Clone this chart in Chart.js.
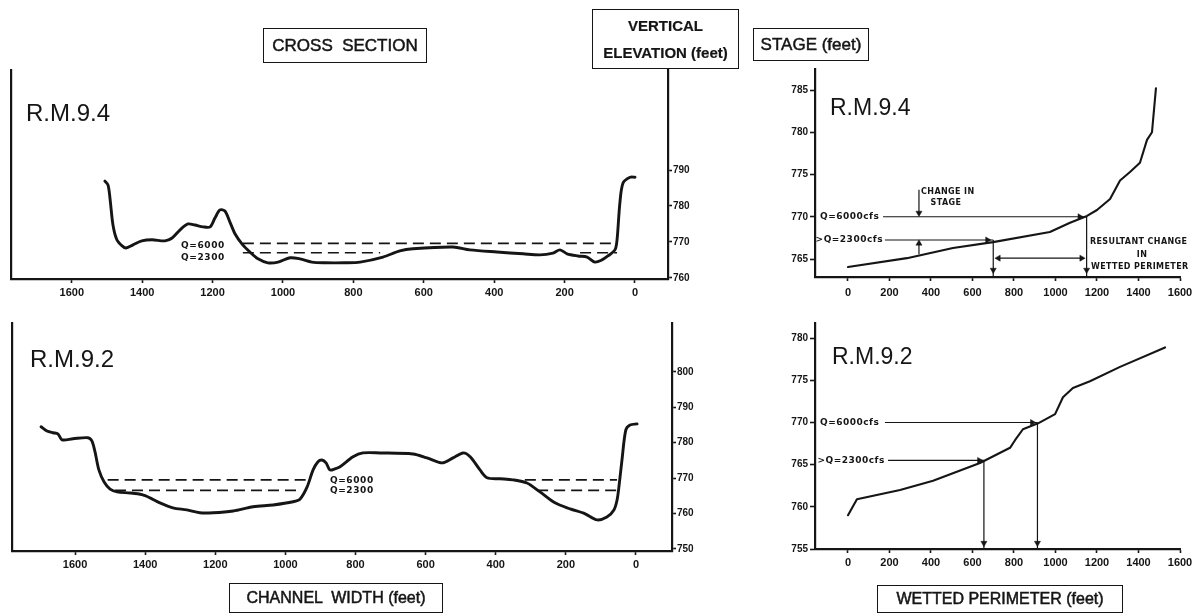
<!DOCTYPE html>
<html>
<head>
<meta charset="utf-8">
<title>Cross sections and stage / wetted perimeter, R.M. 9.4 and R.M. 9.2</title>
<script src="https://cdn.jsdelivr.net/npm/chart.js@4.4.1/dist/chart.umd.min.js"></script>
<style>
  html, body { margin: 0; padding: 0; background: #fff; }
  #page { position: relative; width: 1202px; height: 615px; overflow: hidden; background: #fff; }
  #page canvas { position: absolute; left: 0; top: 0; }
  .box {
    position: absolute; box-sizing: border-box; border: 1.8px solid #151515;
    font-family: "Liberation Sans", Arial, sans-serif; color: #151515;
    display: flex; flex-direction: column; justify-content: center; align-items: center;
    -webkit-text-stroke: 0.5px #151515; white-space: pre;
  }
  .rm {
    position: absolute; font-family: "Liberation Sans", Arial, sans-serif; color: #151515;
    line-height: 1; white-space: pre;
  }
</style>
</head>
<body>
<div id="page">
  <canvas id="csTop" width="1202" height="615"></canvas>
  <canvas id="csBottom" width="1202" height="615"></canvas>
  <canvas id="stTop" width="1202" height="615"></canvas>
  <canvas id="stBottom" width="1202" height="615"></canvas>

  <div class="box" style="left:263px;top:28px;width:164px;height:35px;font-size:17px;">CROSS  SECTION</div>
  <div class="box" style="left:592px;top:9px;width:147px;height:60px;font-size:15px;font-weight:bold;line-height:27px;-webkit-text-stroke:0.2px #151515;"><span>VERTICAL</span><span>ELEVATION (feet)</span></div>
  <div class="box" style="left:753px;top:28px;width:116px;height:33px;font-size:17px;">STAGE (feet)</div>
  <div class="box" style="left:229px;top:583px;width:214px;height:30px;font-size:16px;">CHANNEL  WIDTH (feet)</div>
  <div class="box" style="left:877px;top:585px;width:246px;height:28px;font-size:16px;">WETTED PERIMETER (feet)</div>

  <div class="rm" style="left:26px;top:101px;font-size:24px;">R.M.9.4</div>
  <div class="rm" style="left:30px;top:347px;font-size:24px;">R.M.9.2</div>
  <div class="rm" style="left:830px;top:96px;font-size:23px;">R.M.9.4</div>
  <div class="rm" style="left:832px;top:345px;font-size:23px;">R.M.9.2</div>
</div>

<script>
// ---------- data ----------

// Tick values
const widthTicks = [1600, 1400, 1200, 1000, 800, 600, 400, 200, 0];
const perimeterTicks = [0, 200, 400, 600, 800, 1000, 1200, 1400, 1600];
const elevationTicksRM94 = [760, 770, 780, 790];
const elevationTicksRM92 = [750, 760, 770, 780, 790, 800];
const stageTicksRM94 = [765, 770, 775, 780, 785];
const stageTicksRM92 = [755, 760, 765, 770, 775, 780];

// R.M. 9.4 cross section: channel width (ft) and bed elevation (ft)
const rm94Width = [1506, 1497, 1491, 1483, 1472, 1457, 1446, 1426, 1401, 1372,
  1335, 1315, 1293, 1270, 1250, 1227, 1207, 1193, 1179, 1165,
  1151, 1136, 1116, 1094, 1071, 1043, 1014, 980, 952, 918,
  881, 824, 781, 716, 668, 631, 517, 469, 392, 318,
  270, 233, 213, 193, 162, 136, 114, 94, 77, 57,
  51, 43, 34, 14, 0];
const rm94Elevation = [786.9, 785.8, 781.7, 774.7, 770.6, 768.9, 768.3, 769.2, 770.3, 770.6,
  770.3, 771.1, 773.3, 775.0, 774.7, 774.2, 774.2, 776.7, 778.9, 778.6,
  775.6, 772.2, 769.4, 767.2, 765.3, 764.2, 764.4, 765.6, 765.3, 764.4,
  764.2, 764.2, 764.4, 765.8, 767.5, 768.1, 768.6, 767.8, 767.2, 766.7,
  766.4, 766.9, 767.8, 766.7, 766.1, 765.8, 764.4, 765.0, 766.1, 767.8,
  770.6, 780.8, 786.4, 788.0, 788.0];

// R.M. 9.2 cross section
const rm92Width = [1697, 1680, 1663, 1649, 1637, 1606, 1563, 1552, 1543, 1532,
  1517, 1500, 1480, 1443, 1409, 1386, 1358, 1321, 1281, 1244,
  1206, 1149, 1092, 1035, 978, 958, 938, 921, 907, 896,
  884, 873, 859, 844, 807, 779, 730, 636, 596, 553,
  522, 493, 473, 445, 425, 388, 351, 311, 274, 231,
  188, 145, 111, 83, 63, 54, 48, 40, 29, 17,
  -3];
const rm92Elevation = [784.5, 783.3, 782.8, 782.5, 780.8, 781.1, 781.4, 780.5, 777.4, 772.3,
  768.9, 766.9, 766.1, 765.8, 765.3, 764.4, 763.0, 761.6, 761.0, 760.2,
  760.2, 760.7, 761.9, 762.4, 763.3, 764.1, 767.5, 772.3, 774.6, 775.1,
  774.3, 772.3, 772.6, 773.2, 776.0, 777.1, 777.1, 776.8, 775.7, 774.3,
  775.7, 777.1, 776.0, 772.3, 770.1, 769.8, 769.5, 768.6, 766.1, 763.0,
  761.3, 759.9, 758.2, 759.0, 761.0, 763.8, 768.1, 775.1, 783.6, 785.0,
  785.3];

// Water surfaces drawn across the sections: level (ft) and wetted reaches (ft of channel width)
const rm94Q6000Level = 769.6;
const rm94Q6000Reaches = [[1114, 51]];
const rm94Q2300Level = 767.0;
const rm94Q2300Reaches = [[1114, 724], [156, 51]];
const rm92Q6000Level = 769.5;
const rm92Q6000Reaches = [[1507, 938], [317, 54]];
const rm92Q2300Level = 766.5;
const rm92Q2300Reaches = [[1486, 953], [282, 54]];

// Stage vs wetted perimeter, R.M. 9.4
const rm94Perimeter = [0, 284, 506, 699, 973, 1070, 1152, 1200, 1263, 1311, 1359, 1407, 1441, 1465, 1484];
const rm94Stage = [764.05, 765.1, 766.3, 767.0, 768.2, 769.3, 770.1, 770.8, 772.1, 774.3, 775.3, 776.4, 779.1, 780.0, 785.2];

// Stage vs wetted perimeter, R.M. 9.2
const rm92Perimeter = [0, 43, 251, 410, 636, 781, 805, 843, 916, 998, 1036, 1084, 1166, 1311, 1528];
const rm92Stage = [759.0, 760.9, 762.0, 763.1, 765.2, 767.0, 767.9, 769.2, 769.9, 771.0, 773.0, 774.1, 774.9, 776.6, 778.9];

// Discharge read-offs: [wetted perimeter (ft), stage (ft)]
const rm94At6000 = [1150, 770.0];
const rm94At2300 = [700, 767.25];
const rm92At6000 = [913, 770.0];
const rm92At2300 = [655, 765.5];

// ---------- drawing ----------

const W = 1202, H = 615;
const INK = '#151515';
const X_TICK_FONT = { family: "'Liberation Sans', Arial, sans-serif", size: 11, weight: 'bold' };
const Y_TICK_FONT = { family: "'Liberation Sans', Arial, sans-serif", size: 10, weight: 'bold' };
const NOTE_FONT_BOLD = "bold 9px 'DejaVu Sans', sans-serif";
const NOTE_FONT_SMALL = "bold 8px 'DejaVu Sans', sans-serif";
const NOTE_FONT_SECTION = "bold 9px 'DejaVu Sans', sans-serif";

const pairs = (xs, ys) => xs.map((x, i) => ({ x, y: ys[i] }));

function reachPoints(reaches, level) {
  const pts = [];
  reaches.forEach((r, i) => {
    if (i > 0) pts.push({ x: (reaches[i - 1][1] + r[0]) / 2, y: null });
    pts.push({ x: r[0], y: level }, { x: r[1], y: level });
  });
  return pts;
}

function profile(data, width) {
  return { data, borderColor: INK, borderWidth: width, tension: 0.3, pointRadius: 0,
           borderCapStyle: 'round', borderJoinStyle: 'round', fill: false };
}
function polyline(data, width) {
  return { data, borderColor: INK, borderWidth: width, tension: 0, pointRadius: 0,
           borderCapStyle: 'round', borderJoinStyle: 'round', fill: false };
}
function waterLine(data) {
  return { data, borderColor: INK, borderWidth: 1.7, borderDash: [11, 6], pointRadius: 0,
           tension: 0, spanGaps: false, fill: false };
}
function arrow(data, radii, rotations) {
  return { data, borderColor: INK, borderWidth: 1.2, tension: 0, fill: false,
           pointStyle: 'triangle', pointRadius: radii, pointRotation: rotations,
           pointBackgroundColor: INK, pointBorderColor: INK, pointBorderWidth: 0.5 };
}

// Writes small notes at data coordinates
const notesPlugin = {
  id: 'notes',
  afterDatasetsDraw(chart, args, opts) {
    const { ctx, scales } = chart;
    ctx.save();
    ctx.fillStyle = INK;
    ctx.textBaseline = 'middle';
    (opts.items || []).forEach(n => {
      ctx.font = n.font;
      ctx.textAlign = n.align || 'left';
      ctx.letterSpacing = (n.spacing || 0) + 'px';
      ctx.fillText(n.text, scales.x.getPixelForValue(n.x), scales.y.getPixelForValue(n.y));
    });
    ctx.restore();
  }
};

function tickList(values) {
  return s => { s.ticks = values.map(v => ({ value: v })); };
}

function axisCommon(extra, font) {
  return Object.assign({
    type: 'linear',
    grid: { display: true, drawOnChartArea: false, drawTicks: true, tickLength: 4,
            tickColor: INK, tickWidth: 1.6, color: INK },
    border: { display: true, color: INK, width: 2.2 },
    ticks: { color: INK, font, autoSkip: false, maxRotation: 0, padding: 4,
             callback: v => String(v) }
  }, extra);
}

function makeChart(id, area, cfg) {
  const leftW = cfg.yLeft ? 40 : 0;
  const rightW = cfg.yLeft ? 0 : 34;
  const xH = 30;
  const scales = {
    x: axisCommon({ min: cfg.xRange[0], max: cfg.xRange[1], reverse: !!cfg.reverse, position: 'bottom',
                    afterBuildTicks: tickList(cfg.xTicks), afterFit: s => { s.height = xH; } }, X_TICK_FONT),
    y: axisCommon({ min: cfg.yRange[0], max: cfg.yRange[1], position: cfg.yLeft ? 'left' : 'right',
                    afterBuildTicks: tickList(cfg.yTicks),
                    afterFit: s => { s.width = cfg.yLeft ? leftW : rightW; } }, Y_TICK_FONT)
  };
  scales.x.ticks = Object.assign({}, scales.x.ticks, { padding: cfg.xPad });
  scales.y.ticks = Object.assign({}, scales.y.ticks, { padding: cfg.yLeft ? 2 : 1 });
  scales.y.grid = Object.assign({}, scales.y.grid, { tickLength: cfg.yLeft ? 5 : 4 });
  if (!cfg.yLeft) {
    // plain frame line on the left edge of the section
    scales.frame = { type: 'linear', position: 'left', display: true,
                     ticks: { display: false }, grid: { display: false, drawTicks: false },
                     border: { display: true, color: INK, width: 2.2 },
                     afterFit: s => { s.width = 0; } };
  }
  return new Chart(document.getElementById(id), {
    type: 'line',
    data: { datasets: cfg.datasets },
    options: {
      responsive: false, animation: false, events: [],
      layout: { padding: { left: area.left - leftW, right: W - area.right - rightW,
                           top: area.top, bottom: H - area.bottom - xH } },
      scales,
      plugins: { legend: { display: false }, tooltip: { enabled: false }, title: { display: false },
                 notes: { items: cfg.notes } }
    },
    plugins: [notesPlugin]
  });
}

// R.M. 9.4 cross section
makeChart('csTop', { left: 11, right: 668, top: 70, bottom: 279 }, {
  reverse: true, xRange: [-93.75, 1772.7], yRange: [759.7, 817.8],
  xTicks: widthTicks, yTicks: elevationTicksRM94, xPad: 3,
  datasets: [
    waterLine(reachPoints(rm94Q6000Reaches, rm94Q6000Level)),
    waterLine(reachPoints(rm94Q2300Reaches, rm94Q2300Level)),
    profile(pairs(rm94Width, rm94Elevation), 2.9)
  ],
  notes: [
    { text: 'Q=6000', x: 1165, y: 768.9, align: 'right', font: NOTE_FONT_SECTION, spacing: 0.6 },
    { text: 'Q=2300', x: 1165, y: 765.6, align: 'right', font: NOTE_FONT_SECTION, spacing: 0.6 }
  ]
});

// R.M. 9.2 cross section
makeChart('csBottom', { left: 12, right: 672, top: 323, bottom: 551 }, {
  reverse: true, xRange: [-102.7, 1779.8], yRange: [749.4, 813.8],
  xTicks: widthTicks, yTicks: elevationTicksRM92, xPad: 3,
  datasets: [
    waterLine(reachPoints(rm92Q6000Reaches, rm92Q6000Level)),
    waterLine(reachPoints(rm92Q2300Reaches, rm92Q2300Level)),
    profile(pairs(rm92Width, rm92Elevation), 2.9)
  ],
  notes: [
    { text: 'Q=6000', x: 873, y: 769.2, align: 'left', font: NOTE_FONT_SECTION, spacing: 0.6 },
    { text: 'Q=2300', x: 873, y: 766.4, align: 'left', font: NOTE_FONT_SECTION, spacing: 0.6 }
  ]
});

// R.M. 9.4 stage vs wetted perimeter
(function () {
  const yMin = 762.87;
  const [p6, s6] = rm94At6000, [p2, s2] = rm94At2300;
  makeChart('stTop', { left: 815, right: 1180, top: 69, bottom: 277 }, {
    yLeft: true, xRange: [-159, 1600], yRange: [yMin, 787.49],
    xTicks: perimeterTicks, yTicks: stageTicksRM94, xPad: 5,
    datasets: [
      polyline(pairs(rm94Perimeter, rm94Stage), 2.1),
      arrow([{ x: 169, y: s6 }, { x: p6 - 33, y: s6 }, { x: p6, y: s6 }], [0, 3.5, 0], [0, 90, 0]),
      arrow([{ x: 178, y: s2 }, { x: p2 - 28, y: s2 }, { x: p2, y: s2 }], [0, 3.5, 0], [0, 90, 0]),
      arrow([{ x: p6, y: s6 }, { x: p6, y: 763.7 }, { x: p6, y: yMin }], [0, 3.5, 0], [0, 180, 0]),
      arrow([{ x: p2, y: s2 }, { x: p2, y: 763.7 }, { x: p2, y: yMin }], [0, 3.5, 0], [0, 180, 0]),
      arrow([{ x: 725, y: 765.1 }, { x: 1126, y: 765.1 }], [3.5, 3.5], [270, 90]),
      arrow([{ x: 342, y: 773.2 }, { x: 342, y: s6 + 0.45 }], [0, 3.5], [0, 180]),
      arrow([{ x: 342, y: 765.55 }, { x: 342, y: s2 - 0.4 }], [0, 3.5], [0, 0])
    ],
    notes: [
      { text: 'Q=6000cfs', x: -135, y: s6, font: NOTE_FONT_BOLD, spacing: 0.5 },
      { text: '>Q=2300cfs', x: -156, y: s2, font: NOTE_FONT_BOLD, spacing: 0.5 },
      { text: 'CHANGE IN', x: 352, y: 772.9, font: NOTE_FONT_SMALL, spacing: 0.4 },
      { text: 'STAGE', x: 472, y: 771.6, align: 'center', font: NOTE_FONT_SMALL, spacing: 0.4 },
      { text: 'RESULTANT CHANGE', x: 1166, y: 767.0, font: NOTE_FONT_SMALL, spacing: 0.4 },
      { text: 'IN', x: 1417, y: 765.5, align: 'center', font: NOTE_FONT_SMALL, spacing: 0.4 },
      { text: 'WETTED PERIMETER', x: 1171, y: 764.05, font: NOTE_FONT_SMALL, spacing: 0.4 }
    ]
  });
})();

// R.M. 9.2 stage vs wetted perimeter
(function () {
  const yMin = 755;
  const [p6, s6] = rm92At6000, [p2, s2] = rm92At2300;
  makeChart('stBottom', { left: 815, right: 1180, top: 323, bottom: 549 }, {
    yLeft: true, xRange: [-159, 1600], yRange: [yMin, 781.8],
    xTicks: perimeterTicks, yTicks: stageTicksRM92, xPad: 3,
    datasets: [
      polyline(pairs(rm92Perimeter, rm92Stage), 2.1),
      arrow([{ x: 178, y: s6 }, { x: p6 - 25, y: s6 }, { x: p6, y: s6 }], [0, 3.5, 0], [0, 90, 0]),
      arrow([{ x: 193, y: s2 }, { x: p2 - 22, y: s2 }, { x: p2, y: s2 }], [0, 3.5, 0], [0, 90, 0]),
      arrow([{ x: p6, y: s6 }, { x: p6, y: 755.7 }, { x: p6, y: yMin }], [0, 3.5, 0], [0, 180, 0]),
      arrow([{ x: p2, y: s2 }, { x: p2, y: 755.7 }, { x: p2, y: yMin }], [0, 3.5, 0], [0, 180, 0])
    ],
    notes: [
      { text: 'Q=6000cfs', x: -135, y: s6, font: NOTE_FONT_BOLD, spacing: 0.5 },
      { text: '>Q=2300cfs', x: -147, y: s2, font: NOTE_FONT_BOLD, spacing: 0.5 }
    ]
  });
})();
</script>
</body>
</html>
